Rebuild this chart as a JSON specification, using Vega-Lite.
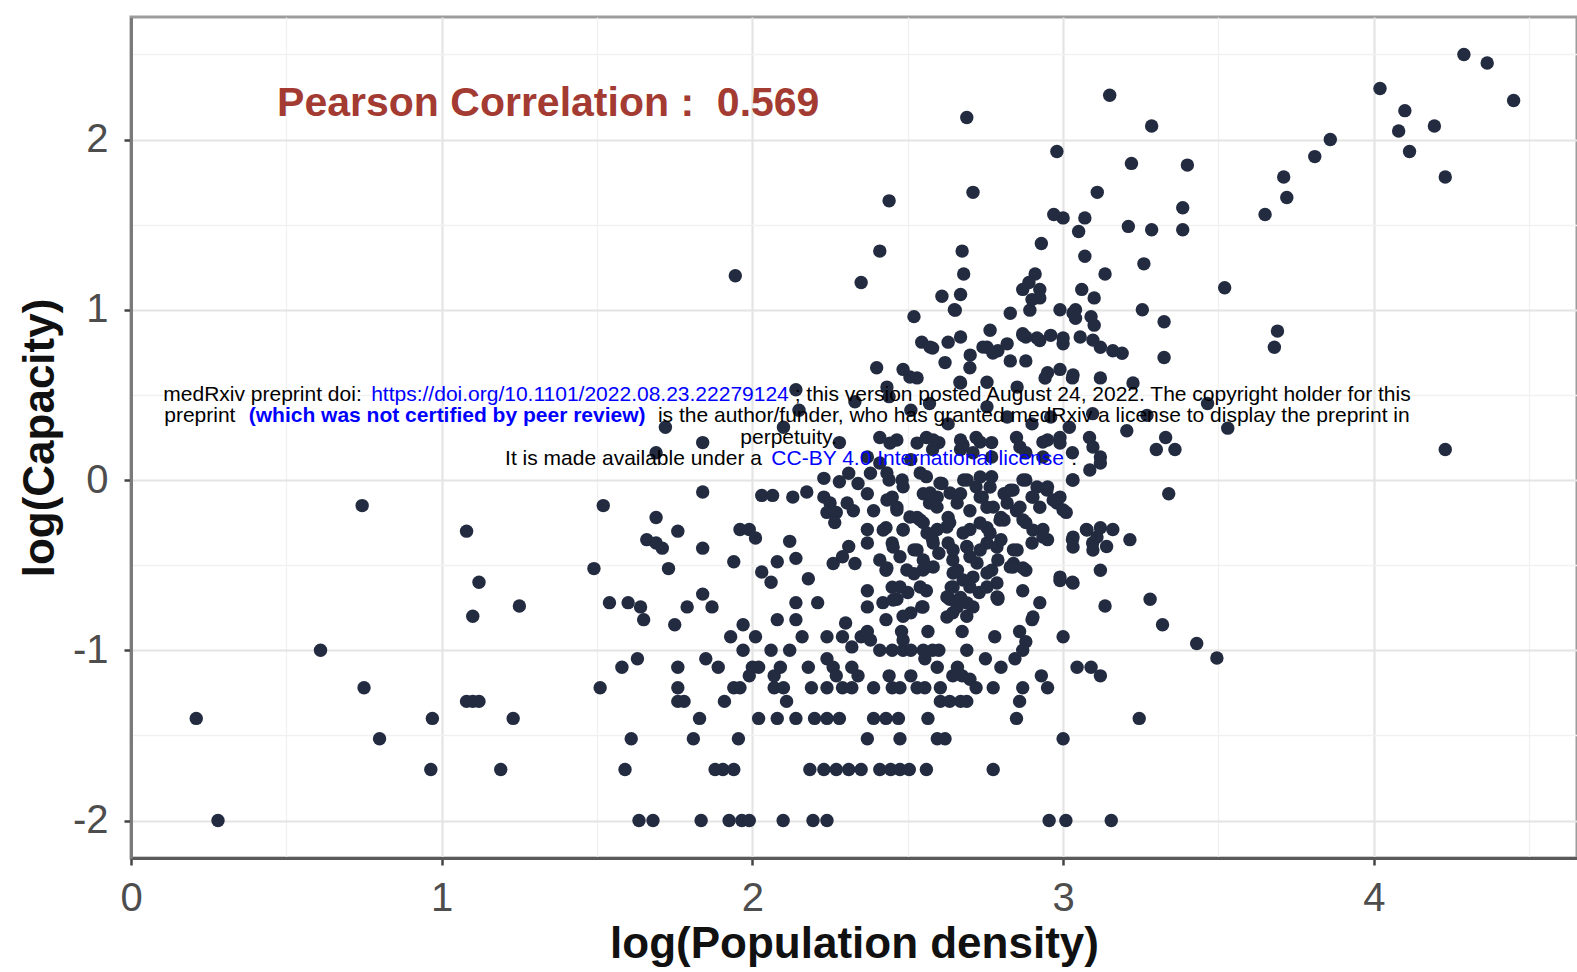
{
"$schema": "https://vega.github.io/schema/vega-lite/v6.json",
"width": 1446, "height": 841,
"autosize": {"type": "none"},
"padding": {"left": 131, "top": 17, "right": 0, "bottom": 114},
"background": "white",
"config": {"view": {"stroke": "#9c9c9c", "strokeWidth": 3}, "font": "Liberation Sans"},
"datasets": {
"pts": [
{"x":0.21,"y":-1.40},{"x":0.28,"y":-2.0},{"x":0.61,"y":-1.0},{"x":0.744,"y":-0.15},{"x":0.75,"y":-1.22},{"x":0.80,"y":-1.52},{"x":0.965,"y":-1.70},{"x":0.97,"y":-1.40},{"x":1.08,"y":-0.30},{"x":1.12,"y":-0.60},{"x":1.10,"y":-0.80},{"x":1.25,"y":-0.74},{"x":1.08,"y":-1.30},{"x":1.10,"y":-1.30},{"x":1.12,"y":-1.30},{"x":1.19,"y":-1.70},{"x":1.23,"y":-1.40},{"x":1.52,"y":-0.15},{"x":1.49,"y":-0.52},{"x":1.51,"y":-1.22},
{"x":1.60,"y":-0.72},{"x":1.64,"y":-0.745},{"x":1.65,"y":-0.82},{"x":1.79,"y":-0.745},{"x":1.87,"y":-0.745},{"x":1.75,"y":-0.85},{"x":1.97,"y":-0.85},{"x":1.93,"y":-0.92},{"x":2.01,"y":-0.92},{"x":1.97,"y":-1.0},{"x":2.08,"y":-0.82},{"x":2.14,"y":-0.82},{"x":2.16,"y":-0.92},{"x":2.06,"y":-1.0},{"x":2.12,"y":-1.0},{"x":2.14,"y":-0.72},{"x":2.21,"y":-0.72},{"x":2.24,"y":-0.92},{"x":2.29,"y":-0.92},{"x":2.30,"y":-0.84},{"x":2.32,"y":-0.98},{"x":2.35,"y":-0.92},{"x":1.58,"y":-1.10},{"x":1.63,"y":-1.05},{"x":1.76,"y":-1.10},{"x":1.76,"y":-1.22},{"x":1.76,"y":-1.30},{"x":1.78,"y":-1.30},{"x":1.85,"y":-1.05},{"x":1.89,"y":-1.10},{"x":1.83,"y":-1.40},{"x":1.91,"y":-1.30},{"x":1.94,"y":-1.22},{"x":1.96,"y":-1.22},{"x":2.00,"y":-1.10},{"x":2.02,"y":-1.10},{"x":1.99,"y":-1.15},{"x":2.09,"y":-1.10},{"x":2.07,"y":-1.15},{"x":2.07,"y":-1.22},{"x":2.10,"y":-1.22},{"x":2.11,"y":-1.30},{"x":2.18,"y":-1.10},{"x":2.19,"y":-1.22},{"x":2.24,"y":-1.22},{"x":2.24,"y":-1.05},{"x":2.26,"y":-1.10},{"x":2.27,"y":-1.15},{"x":2.29,"y":-1.22},{"x":2.32,"y":-1.10},{"x":2.32,"y":-1.22},{"x":2.34,"y":-1.15},{"x":2.02,"y":-1.40},{"x":2.08,"y":-1.40},{"x":2.14,"y":-1.40},{"x":2.20,"y":-1.40},{"x":2.24,"y":-1.40},{"x":2.28,"y":-1.40},{"x":1.61,"y":-1.52},{"x":1.81,"y":-1.52},{"x":1.955,"y":-1.52},{"x":1.59,"y":-1.70},{"x":1.88,"y":-1.70},{"x":1.905,"y":-1.70},{"x":1.94,"y":-1.70},{"x":2.185,"y":-1.70},{"x":2.23,"y":-1.70},{"x":2.27,"y":-1.70},{"x":2.31,"y":-1.70},
{"x":1.635,"y":-2.0},{"x":1.68,"y":-2.0},{"x":1.835,"y":-2.0},{"x":1.925,"y":-2.0},{"x":1.966,"y":-2.0},{"x":1.99,"y":-2.0},{"x":2.099,"y":-2.0},{"x":2.195,"y":-2.0},{"x":2.24,"y":-2.0},{"x":2.955,"y":-2.0},{"x":3.009,"y":-2.0},{"x":3.155,"y":-2.0},
{"x":2.37,"y":-0.745},{"x":2.42,"y":-0.72},{"x":2.465,"y":-0.70},{"x":2.545,"y":-0.745},{"x":2.635,"y":-0.70},{"x":2.71,"y":-0.745},{"x":2.79,"y":-0.70},{"x":2.645,"y":-0.78},{"x":2.69,"y":-0.80},{"x":2.43,"y":-0.82},{"x":2.485,"y":-0.80},{"x":2.51,"y":-0.78},{"x":2.37,"y":-0.89},{"x":2.38,"y":-0.94},{"x":2.41,"y":-1.0},{"x":2.45,"y":-1.0},{"x":2.485,"y":-1.0},{"x":2.51,"y":-1.0},{"x":2.55,"y":-1.0},{"x":2.58,"y":-1.0},{"x":2.60,"y":-1.0},{"x":2.48,"y":-0.89},{"x":2.485,"y":-0.94},{"x":2.565,"y":-0.89},{"x":2.675,"y":-0.89},{"x":2.69,"y":-1.0},{"x":2.78,"y":-0.92},{"x":2.86,"y":-0.89},{"x":2.88,"y":-0.95},{"x":2.87,"y":-1.0},{"x":2.845,"y":-1.05},{"x":2.90,"y":-0.82},{"x":3.00,"y":-0.92},{"x":3.135,"y":-0.74},{"x":3.28,"y":-0.70},{"x":3.32,"y":-0.85},{"x":2.75,"y":-1.05},{"x":2.80,"y":-1.10},{"x":2.39,"y":-1.22},{"x":2.44,"y":-1.15},{"x":2.45,"y":-1.22},{"x":2.475,"y":-1.22},{"x":2.51,"y":-1.15},{"x":2.53,"y":-1.22},{"x":2.555,"y":-1.22},{"x":2.555,"y":-1.05},{"x":2.595,"y":-1.10},{"x":2.605,"y":-1.22},{"x":2.605,"y":-1.30},{"x":2.635,"y":-1.30},{"x":2.67,"y":-1.30},{"x":2.69,"y":-1.30},{"x":2.66,"y":-1.10},{"x":2.675,"y":-1.15},{"x":2.70,"y":-1.17},{"x":2.72,"y":-1.22},{"x":2.645,"y":-1.15},{"x":2.775,"y":-1.22},{"x":2.87,"y":-1.22},{"x":2.86,"y":-1.30},{"x":2.85,"y":-1.40},{"x":2.93,"y":-1.15},{"x":2.95,"y":-1.22},{"x":3.045,"y":-1.10},{"x":3.09,"y":-1.10},{"x":3.12,"y":-1.15},{"x":3.245,"y":-1.40},{"x":2.39,"y":-1.40},{"x":2.43,"y":-1.40},{"x":2.47,"y":-1.40},{"x":2.565,"y":-1.40},{"x":2.37,"y":-1.52},{"x":2.475,"y":-1.52},{"x":2.595,"y":-1.52},{"x":2.62,"y":-1.52},{"x":3.00,"y":-1.52},{"x":2.35,"y":-1.70},{"x":2.41,"y":-1.70},{"x":2.445,"y":-1.70},{"x":2.475,"y":-1.70},{"x":2.505,"y":-1.70},{"x":2.56,"y":-1.70},{"x":2.775,"y":-1.70},
{"x":2.14,"y":0.53},{"x":1.72,"y":0.31},{"x":1.84,"y":0.22},{"x":1.69,"y":0.16},{"x":2.10,"y":0.31},{"x":2.28,"y":0.22},{"x":2.33,"y":0.46},{"x":2.15,"y":0.41},{"x":2.23,"y":0.01},{"x":2.28,"y":-0.01},{"x":2.31,"y":0.04},{"x":2.34,"y":-0.02},{"x":1.84,"y":-0.07},{"x":2.03,"y":-0.09},{"x":2.065,"y":-0.09},{"x":2.13,"y":-0.10},{"x":2.175,"y":-0.07},{"x":2.23,"y":-0.10},{"x":2.25,"y":-0.135},{"x":2.24,"y":-0.19},{"x":2.27,"y":-0.19},{"x":2.305,"y":-0.135},{"x":2.325,"y":-0.18},{"x":2.265,"y":-0.25},{"x":1.69,"y":-0.22},{"x":1.76,"y":-0.30},{"x":1.96,"y":-0.29},{"x":1.99,"y":-0.29},{"x":2.01,"y":-0.34},{"x":1.66,"y":-0.35},{"x":1.69,"y":-0.37},{"x":1.71,"y":-0.40},{"x":1.84,"y":-0.40},{"x":2.12,"y":-0.36},{"x":1.94,"y":-0.48},{"x":2.08,"y":-0.48},{"x":2.14,"y":-0.46},{"x":1.73,"y":-0.52},{"x":2.03,"y":-0.54},{"x":2.06,"y":-0.60},{"x":2.18,"y":-0.58},{"x":2.26,"y":-0.49},{"x":2.29,"y":-0.45},{"x":2.31,"y":-0.39},{"x":2.33,"y":-0.49},{"x":1.54,"y":-0.72},{"x":1.84,"y":-0.67},
{"x":2.545,"y":0.81},{"x":2.58,"y":0.775},{"x":2.63,"y":0.81},{"x":2.67,"y":0.84},{"x":2.755,"y":0.78},{"x":2.79,"y":0.76},{"x":2.82,"y":0.80},{"x":2.88,"y":0.84},{"x":2.925,"y":0.82},{"x":2.96,"y":0.85},{"x":3.00,"y":0.80},{"x":3.055,"y":0.84},{"x":3.12,"y":0.78},{"x":3.16,"y":0.76},{"x":3.19,"y":0.745},
{"x":2.40,"y":0.66},{"x":2.485,"y":0.65},{"x":2.53,"y":0.60},{"x":2.62,"y":0.69},{"x":2.70,"y":0.66},{"x":2.83,"y":0.70},{"x":2.88,"y":0.70},{"x":2.95,"y":0.63},{"x":2.99,"y":0.65},{"x":3.03,"y":0.60},{"x":3.12,"y":0.60},{"x":3.225,"y":0.57},
{"x":2.44,"y":0.49},{"x":2.51,"y":0.41},{"x":2.57,"y":0.45},{"x":2.63,"y":0.33},{"x":2.67,"y":0.57},{"x":2.755,"y":0.43},{"x":2.82,"y":0.37},{"x":2.90,"y":0.33},{"x":2.96,"y":0.37},{"x":3.02,"y":0.31},{"x":3.095,"y":0.39},{"x":3.205,"y":0.29},{"x":3.27,"y":0.38},
{"x":2.41,"y":0.25},{"x":2.465,"y":0.235},{"x":2.56,"y":0.25},{"x":2.60,"y":0.22},{"x":2.67,"y":0.235},{"x":2.72,"y":0.25},{"x":2.77,"y":0.22},{"x":2.85,"y":0.25},{"x":2.95,"y":0.235},{"x":2.99,"y":0.25},{"x":3.085,"y":0.25},{"x":3.12,"y":0.135},{"x":3.12,"y":0.10},{"x":2.37,"y":0.135},{"x":2.41,"y":0.10},{"x":2.51,"y":0.12},{"x":2.58,"y":0.18},{"x":2.67,"y":0.18},{"x":2.71,"y":0.16},{"x":2.77,"y":0.135},{"x":2.88,"y":0.16},{"x":2.935,"y":0.135},{"x":3.03,"y":0.16},
{"x":2.38,"y":0.04},{"x":2.44,"y":0.0},{"x":2.485,"y":-0.04},{"x":2.56,"y":0.02},{"x":2.61,"y":-0.02},{"x":2.68,"y":0.0},{"x":2.72,"y":-0.04},{"x":2.77,"y":0.02},{"x":2.83,"y":-0.06},{"x":2.88,"y":0.0},{"x":2.95,"y":-0.04},{"x":3.03,"y":0.0},{"x":2.37,"y":-0.08},{"x":2.45,"y":-0.10},{"x":2.55,"y":-0.08},{"x":2.595,"y":-0.10},{"x":2.67,"y":-0.08},{"x":2.74,"y":-0.10},{"x":2.81,"y":-0.08},{"x":2.90,"y":-0.10},{"x":2.99,"y":-0.10},
{"x":2.39,"y":-0.18},{"x":2.465,"y":-0.16},{"x":2.53,"y":-0.22},{"x":2.57,"y":-0.135},{"x":2.63,"y":-0.22},{"x":2.70,"y":-0.18},{"x":2.755,"y":-0.16},{"x":2.80,"y":-0.22},{"x":2.85,"y":-0.18},{"x":2.925,"y":-0.16},{"x":2.98,"y":-0.135},{"x":3.01,"y":-0.19},{"x":2.37,"y":-0.29},{"x":2.43,"y":-0.28},{"x":2.485,"y":-0.29},{"x":2.55,"y":-0.25},{"x":2.595,"y":-0.29},{"x":2.635,"y":-0.25},{"x":2.70,"y":-0.29},{"x":2.755,"y":-0.28},{"x":2.81,"y":-0.235},{"x":2.88,"y":-0.25},{"x":2.935,"y":-0.29},{"x":3.075,"y":-0.29},{"x":3.12,"y":-0.28},{"x":3.16,"y":-0.29},{"x":3.215,"y":-0.35},
{"x":2.37,"y":-0.37},{"x":2.45,"y":-0.37},{"x":2.52,"y":-0.41},{"x":2.58,"y":-0.35},{"x":2.63,"y":-0.37},{"x":2.69,"y":-0.39},{"x":2.755,"y":-0.37},{"x":2.80,"y":-0.35},{"x":2.84,"y":-0.41},{"x":2.90,"y":-0.37},{"x":2.95,"y":-0.35},{"x":3.03,"y":-0.35},{"x":3.095,"y":-0.37},{"x":3.14,"y":-0.39},{"x":2.41,"y":-0.47},{"x":2.475,"y":-0.45},{"x":2.55,"y":-0.47},{"x":2.60,"y":-0.43},{"x":2.645,"y":-0.47},{"x":2.70,"y":-0.45},{"x":2.79,"y":-0.47},{"x":2.84,"y":-0.49},{"x":2.88,"y":-0.53},
{"x":2.43,"y":-0.53},{"x":2.52,"y":-0.55},{"x":2.56,"y":-0.51},{"x":2.66,"y":-0.53},{"x":2.71,"y":-0.57},{"x":2.77,"y":-0.53},{"x":2.83,"y":-0.51},{"x":2.99,"y":-0.59},{"x":3.03,"y":-0.60},{"x":3.12,"y":-0.53},{"x":2.37,"y":-0.65},{"x":2.45,"y":-0.63},{"x":2.50,"y":-0.66},{"x":2.56,"y":-0.65},{"x":2.64,"y":-0.63},{"x":2.67,"y":-0.69},{"x":2.73,"y":-0.66},{"x":2.79,"y":-0.69},{"x":2.87,"y":-0.65},{"x":2.925,"y":-0.72},
{"x":2.443,"y":0.217},{"x":2.53,"y":0.217},{"x":2.582,"y":0.235},{"x":2.678,"y":0.206},{"x":2.733,"y":0.223},{"x":2.861,"y":0.194},{"x":2.935,"y":0.223},{"x":2.99,"y":0.217},{"x":3.096,"y":0.194},
{"x":2.433,"y":0.041},{"x":2.482,"y":0.0},{"x":2.54,"y":0.041},{"x":2.604,"y":-0.018},{"x":2.636,"y":-0.076},{"x":2.691,"y":0.0},{"x":2.733,"y":0.018},{"x":2.765,"y":-0.041},{"x":2.839,"y":-0.059},{"x":2.871,"y":0.0},{"x":2.916,"y":-0.041},{"x":2.948,"y":-0.059},{"x":3.032,"y":0.0},{"x":3.086,"y":0.059},
{"x":2.433,"y":-0.117},{"x":2.465,"y":-0.176},{"x":2.507,"y":-0.217},{"x":2.572,"y":-0.076},{"x":2.594,"y":-0.159},{"x":2.659,"y":-0.135},{"x":2.733,"y":-0.1},{"x":2.775,"y":-0.159},{"x":2.82,"y":-0.135},{"x":2.861,"y":-0.159},{"x":2.903,"y":-0.1},{"x":2.968,"y":-0.117},{"x":3.0,"y":-0.176},
{"x":2.421,"y":-0.294},{"x":2.485,"y":-0.294},{"x":2.54,"y":-0.235},{"x":2.562,"y":-0.311},{"x":2.626,"y":-0.276},{"x":2.678,"y":-0.311},{"x":2.733,"y":-0.252},{"x":2.765,"y":-0.311},{"x":2.797,"y":-0.235},{"x":2.871,"y":-0.235},{"x":2.903,"y":-0.294},{"x":2.935,"y":-0.335},{"x":3.032,"y":-0.335},{"x":3.077,"y":-0.294},{"x":3.109,"y":-0.335},
{"x":2.453,"y":-0.393},{"x":2.53,"y":-0.411},{"x":2.582,"y":-0.37},{"x":2.646,"y":-0.411},{"x":2.691,"y":-0.393},{"x":2.733,"y":-0.411},{"x":2.787,"y":-0.393},{"x":2.852,"y":-0.411},{"x":3.032,"y":-0.393},{"x":3.096,"y":-0.411},
{"x":2.433,"y":-0.517},{"x":2.497,"y":-0.528},{"x":2.549,"y":-0.528},{"x":2.582,"y":-0.511},{"x":2.646,"y":-0.546},{"x":2.678,"y":-0.587},{"x":2.723,"y":-0.487},{"x":2.755,"y":-0.546},{"x":2.787,"y":-0.605},{"x":2.839,"y":-0.511},{"x":2.871,"y":-0.517},{"x":2.99,"y":-0.57},{"x":3.032,"y":-0.605},
{"x":2.475,"y":-0.628},{"x":2.54,"y":-0.628},{"x":2.646,"y":-0.628},{"x":2.7,"y":-0.628},{"x":2.755,"y":-0.628},{"x":2.453,"y":-0.705},{"x":2.549,"y":-0.746},{"x":2.626,"y":-0.687},{"x":2.659,"y":-0.746},{"x":2.691,"y":-0.722},{"x":2.787,"y":-0.687},{"x":2.903,"y":-0.804},{"x":2.626,"y":-0.804},
{"x":2.653,"y":0.998},{"x":2.893,"y":0.998},{"x":3.032,"y":0.981},{"x":2.572,"y":0.781},{"x":2.742,"y":0.781},{"x":2.871,"y":0.851},{"x":2.916,"y":0.834},{"x":3.0,"y":0.834},{"x":3.096,"y":0.822},{"x":2.507,"y":0.605},{"x":2.701,"y":0.734},{"x":2.774,"y":0.746},{"x":2.942,"y":0.599},{"x":3.032,"y":0.617},{"x":2.433,"y":0.546},{"x":2.668,"y":0.575},{"x":2.755,"y":0.575},{"x":2.852,"y":0.546},
{"x":2.69,"y":2.13},{"x":3.15,"y":2.26},{"x":3.285,"y":2.08},{"x":2.98,"y":1.93},{"x":3.22,"y":1.86},{"x":2.44,"y":1.64},{"x":2.71,"y":1.69},{"x":3.11,"y":1.69},{"x":2.97,"y":1.56},{"x":3.00,"y":1.54},{"x":3.07,"y":1.54},{"x":3.05,"y":1.46},{"x":3.21,"y":1.49},{"x":3.285,"y":1.47},{"x":2.41,"y":1.345},{"x":2.675,"y":1.345},{"x":2.93,"y":1.39},{"x":3.07,"y":1.315},{"x":3.26,"y":1.27},{"x":2.68,"y":1.21},{"x":2.91,"y":1.21},{"x":3.135,"y":1.21},{"x":2.35,"y":1.16},{"x":2.61,"y":1.08},{"x":2.67,"y":1.09},{"x":2.87,"y":1.12},{"x":2.89,"y":1.16},{"x":2.925,"y":1.12},{"x":2.90,"y":1.06},{"x":2.925,"y":1.07},{"x":3.06,"y":1.12},{"x":3.10,"y":1.07},{"x":2.65,"y":1.00},{"x":2.52,"y":0.96},{"x":2.83,"y":0.98},{"x":2.99,"y":1.00},{"x":3.04,"y":1.00},{"x":3.04,"y":0.95},{"x":3.09,"y":0.96},{"x":3.10,"y":0.91},{"x":3.255,"y":1.00},{"x":2.765,"y":0.88},{"x":2.87,"y":0.86},
{"x":3.325,"y":0.93},{"x":3.325,"y":0.72},{"x":3.69,"y":0.875},{"x":3.68,"y":0.78},{"x":3.465,"y":0.45},{"x":3.53,"y":0.305},{"x":3.33,"y":0.25},{"x":3.30,"y":0.18},{"x":3.36,"y":0.18},{"x":3.34,"y":-0.08},{"x":3.43,"y":-0.96},{"x":3.495,"y":-1.045},
{"x":4.29,"y":2.50},{"x":4.365,"y":2.45},{"x":4.45,"y":2.23},{"x":4.02,"y":2.30},{"x":4.10,"y":2.17},{"x":4.08,"y":2.05},{"x":4.115,"y":1.93},{"x":4.195,"y":2.08},{"x":4.23,"y":1.78},{"x":3.86,"y":2.00},{"x":3.81,"y":1.90},{"x":3.71,"y":1.78},{"x":3.72,"y":1.66},{"x":3.65,"y":1.56},{"x":3.52,"y":1.13},{"x":4.23,"y":0.18},{"x":3.40,"y":1.85},{"x":3.385,"y":1.60},{"x":3.385,"y":1.47},{"x":1.945,"y":1.20}
],
"ann": [{"x":1.343,"y":2.21,"label":"Pearson Correlation :\u00a0\u00a00.569"}],
"wm_black": [
{"x":0.104,"y":0.499,"label":"medRxiv preprint doi: "},
{"x":2.136,"y":0.499,"label":"; this version posted August 24, 2022. The copyright holder for this"},
{"x":0.107,"y":0.376,"label":"preprint"},
{"x":1.696,"y":0.376,"label":"is the author/funder, who has granted medRxiv a license to display the preprint in"},
{"x":1.961,"y":0.25,"label":"perpetuity."},
{"x":1.204,"y":0.126,"label":"It is made available under a "},
{"x":3.026,"y":0.126,"label":"."}
],
"wm_blue": [
{"x":0.773,"y":0.499,"label":"https://doi.org/10.1101/2022.08.23.22279124"},
{"x":2.061,"y":0.126,"label":"CC-BY 4.0 International license"}
],
"wm_bold": [{"x":0.379,"y":0.376,"label":"(which was not certified by peer review)"}]
},
"layer": [
{"data": {"name": "pts"},
 "mark": {"type": "circle", "size": 180, "opacity": 1, "color": "#232b40"},
 "encoding": {
  "x": {"field": "x", "type": "quantitative",
   "scale": {"domain": [0, 4.654], "nice": false, "zero": false},
   "axis": {"title": "log(Population density)", "values": [0,0.5,1,1.5,2,2.5,3,3.5,4,4.5],
    "labelExpr": "datum.value % 1 === 0 ? toString(datum.value) : ''",
    "grid": true,
    "gridColor": {"condition": {"test": "datum.value % 1 === 0", "value": "#e4e4e4"}, "value": "#f1f1f1"},
    "gridWidth": {"condition": {"test": "datum.value % 1 === 0", "value": 2.2}, "value": 1.3},
    "tickOpacity": {"condition": {"test": "datum.value % 1 === 0", "value": 1}, "value": 0},
    "tickColor": "#444444", "tickWidth": 2.5, "tickSize": 7,
    "domainColor": "#5a5a5a", "domainWidth": 3,
    "labelFont": "Liberation Sans", "labelFontSize": 40, "labelColor": "#4d4d4d", "labelPadding": 13,
    "labelFlush": false, "labelOverlap": false,
    "titleFont": "Liberation Sans", "titleFontSize": 44, "titleFontWeight": "bold", "titleColor": "#111111",
    "titleX": 723, "titleY": 99, "titleBaseline": "alphabetic", "titleAlign": "center"}},
  "y": {"field": "y", "type": "quantitative",
   "scale": {"domain": [-2.22, 2.72], "nice": false, "zero": false},
   "axis": {"title": "log(Capacity)", "values": [-2,-1.5,-1,-0.5,0,0.5,1,1.5,2,2.5],
    "labelExpr": "datum.value % 1 === 0 ? toString(datum.value) : ''",
    "grid": true,
    "gridColor": {"condition": {"test": "datum.value % 1 === 0", "value": "#e4e4e4"}, "value": "#f1f1f1"},
    "gridWidth": {"condition": {"test": "datum.value % 1 === 0", "value": 2.2}, "value": 1.3},
    "tickOpacity": {"condition": {"test": "datum.value % 1 === 0", "value": 1}, "value": 0},
    "tickColor": "#444444", "tickWidth": 2.5, "tickSize": 7,
    "domainColor": "#7a7a7a", "domainWidth": 3,
    "labelFont": "Liberation Sans", "labelFontSize": 40, "labelColor": "#4d4d4d", "labelPadding": 16,
    "labelOverlap": false,
    "titleFont": "Liberation Sans", "titleFontSize": 44, "titleFontWeight": "bold", "titleColor": "#111111",
    "titleX": -91, "titleY": 420.5, "titleAngle": -90, "titleBaseline": "middle", "titleAlign": "center"}}
 }},
{"data": {"name": "ann"},
 "mark": {"type": "text", "font": "Liberation Sans", "fontWeight": "bold", "fontSize": 41, "color": "#a33b32", "align": "center", "baseline": "middle"},
 "encoding": {"x": {"field": "x", "type": "quantitative"}, "y": {"field": "y", "type": "quantitative"}, "text": {"field": "label", "type": "nominal"}}},
{"data": {"name": "wm_black"},
 "mark": {"type": "text", "font": "Liberation Sans", "fontSize": 21, "color": "#000000", "align": "left", "baseline": "middle"},
 "encoding": {"x": {"field": "x", "type": "quantitative"}, "y": {"field": "y", "type": "quantitative"}, "text": {"field": "label", "type": "nominal"}}},
{"data": {"name": "wm_blue"},
 "mark": {"type": "text", "font": "Liberation Sans", "fontSize": 21, "color": "#0000ff", "align": "left", "baseline": "middle"},
 "encoding": {"x": {"field": "x", "type": "quantitative"}, "y": {"field": "y", "type": "quantitative"}, "text": {"field": "label", "type": "nominal"}}},
{"data": {"name": "wm_bold"},
 "mark": {"type": "text", "font": "Liberation Sans", "fontSize": 21, "fontWeight": "bold", "color": "#0000ff", "align": "left", "baseline": "middle"},
 "encoding": {"x": {"field": "x", "type": "quantitative"}, "y": {"field": "y", "type": "quantitative"}, "text": {"field": "label", "type": "nominal"}}}
]
}
